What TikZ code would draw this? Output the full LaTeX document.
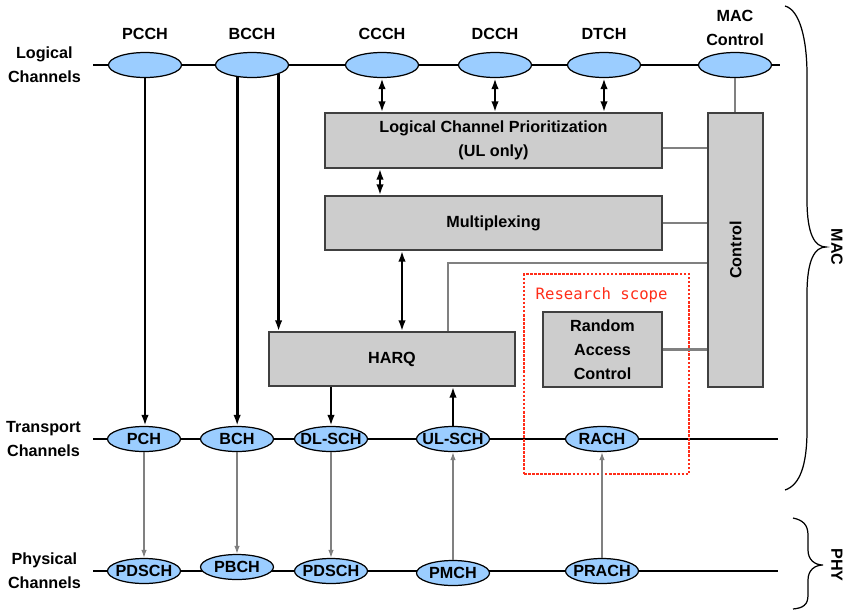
\documentclass[tikz,border=0pt]{standalone}
\usepackage{fontspec}
\setmainfont{Liberation Sans}
\newfontfamily\scopefont{DejaVu Sans Mono}
\usepackage{tikz}
\usetikzlibrary{arrows.meta, positioning, shapes.geometric, calc}
\definecolor{chanblue}{RGB}{155,205,255}
\definecolor{boxgray}{RGB}{205,205,205}
\definecolor{scopered}{RGB}{255,45,25}
\newcommand{\chtext}[1]{\makebox[0pt]{#1}}

\begin{document}
\begin{tikzpicture}[
    x=0.2mm, y=-0.2mm,
    every node/.style={font=\fontsize{9.2}{13.6}\selectfont\bfseries},
    % Channel styles
    chan/.style={
      ellipse, draw, line width=0.7pt, fill=chanblue,
      minimum width=14.6mm, minimum height=5mm, inner sep=0pt
    },
    sidelabel/.style={align=center},
    % Box styles
    macbox/.style={
      rectangle, draw=black!75, line width=0.8pt, fill=boxgray,
      align=center
    },
    scopebox/.style={
      rectangle, draw=scopered, line width=1.1pt,
      dash pattern=on 1.5pt off 0.8pt,
      minimum width=33mm, minimum height=40mm
    },
    scopelabel/.style={
      font=\fontsize{8.9}{11}\selectfont\scopefont, text=scopered
    },
    % Arrow styles
    arr/.style={-{Latex[length=2.2mm, width=1.5mm]}, line width=1.6pt},
    duplex/.style={{Latex[length=2.2mm, width=1.5mm]}-{Latex[length=2.2mm, width=1.5mm]}, line width=1.6pt},
    phyarr/.style={-{Latex[length=1.6mm, width=1.1mm]}, line width=0.7pt, color=gray},
    ctrlline/.style={line width=1.3pt, color=gray},
    chanline/.style={line width=0.7pt}
  ]
  \useasboundingbox (0,0) rectangle (847,611);

  % ============ Channel lines ============
  \coordinate (logL) at (93,65);
  \coordinate (trL) at (93,439);
  \coordinate (phyL) at (93,571);
  \draw[chanline] (logL) -- (780,65);
  \draw[chanline] (trL) -- (778,439);
  \draw[chanline] (phyL) -- (778,571);

  \node[sidelabel, left=1.2mm of logL] {Logical\\Channels};
  \node[sidelabel, left=1.2mm of trL] {Transport\\Channels};
  \node[sidelabel, left=1.2mm of phyL] {Physical\\Channels};

  % ============ Logical Channels ============
  \node[chan] (pcch) at (145,65) {};
  \node[chan] (bcch) at (252,65) {};
  \node[chan] (ccch) at (382,65) {};
  \node[chan] (dcch) at (495,65) {};
  \node[chan] (dtch) at (604,65) {};
  \node[chan] (macctl) at (735,65) {};
  \node[above=1.2mm of pcch] {PCCH};
  \node[above=1.2mm of bcch] {BCCH};
  \node[above=1.2mm of ccch] {CCCH};
  \node[above=1.2mm of dcch] {DCCH};
  \node[above=1.2mm of dtch] {DTCH};
  \node[above=0mm of macctl, align=center] {MAC\\Control};

  % ============ Transport Channels ============
  \node[chan] (pch) at (144,439) {\chtext{PCH}};
  \node[chan] (bch) at (237,439) {\chtext{BCH}};
  \node[chan] (dlsch) at (331,439) {\chtext{DL-SCH}};
  \node[chan] (ulsch) at (453,439) {\chtext{UL-SCH}};
  \node[chan] (rach) at (602,439) {\chtext{RACH}};

  % ============ Physical Channels ============
  \node[chan] (pdscha) at (144,571) {\chtext{PDSCH}};
  \node[chan] (pbch) at (237,567) {\chtext{PBCH}};
  \node[chan] (pdschb) at (331,571) {\chtext{PDSCH}};
  \node[chan] (pmch) at (453,573) {\chtext{PMCH}};
  \node[chan] (prach) at (602,571) {\chtext{PRACH}};

  % ============ MAC entities ============
  \node[macbox, minimum width=67.4mm, minimum height=11mm] (lcp) at (493.5,140.5)
    {Logical Channel Prioritization\\(UL only)};
  \node[macbox, minimum width=67.4mm, minimum height=10.8mm] (mux) at (493.5,223)
    {Multiplexing};
  \node[macbox, minimum width=49.2mm, minimum height=10.8mm] (harq) at (392,359)
    {HARQ};
  \node[macbox, minimum width=23.8mm, minimum height=15mm] (rac) at (602.5,349.5)
    {Random\\Access\\Control};
  \node[macbox, minimum width=11mm, minimum height=54.8mm] (ctrl) at (735.5,250) {};
  \node[rotate=90] at (ctrl.center) {Control};

  % Research scope frame
  \node[scopebox] (scope) at (606.5,374) {};
  \node[scopelabel, below right=1.7mm and 1.3mm of scope.north west] {Research scope};

  % ============ Arrows ============
  % Logical to transport / MAC
  \draw[arr] (pcch.south) -- (pcch.south |- pch.north);
  \draw[arr] (bcch.-141) -- (bcch.-141 |- bch.north);
  \draw[arr] (bcch.-19) -- (bcch.-19 |- harq.north);
  \draw[duplex] (ccch.south) -- (ccch.south |- lcp.north);
  \draw[duplex] (dcch.south) -- (dcch.south |- lcp.north);
  \draw[duplex] (dtch.south) -- (dtch.south |- lcp.north);

  % Between MAC entities
  \draw[duplex] (lcp.south -| 380,0) -- (mux.north -| 380,0);
  \draw[duplex] (mux.south -| 402,0) -- (harq.north -| 402,0);
  \draw[arr] (harq.south -| dlsch) -- (dlsch.north);
  \draw[arr] (ulsch.north) -- (harq.south -| ulsch);

  % Transport to physical
  \draw[phyarr] (pch.south) -- (pdscha.north);
  \draw[phyarr] (bch.south) -- (pbch.north);
  \draw[phyarr] (dlsch.south) -- (pdschb.north);
  \draw[phyarr] (pmch.north) -- (ulsch.south);
  \draw[phyarr] (prach.north) -- (rach.south);

  % Control links
  \draw[ctrlline] (macctl.south) -- (macctl.south |- ctrl.north);
  \draw[ctrlline] (lcp.east |- 0,148) -- (ctrl.west |- 0,148);
  \draw[ctrlline] (mux.east) -- (mux.east -| ctrl.west);
  \draw[ctrlline] (harq.north -| 448,0) |- (ctrl.west |- 0,263);
  \draw[ctrlline] (rac.east) -- (rac.east -| ctrl.west);

  % ============ Layer braces ============
  \draw[line width=0.7pt] (785,6) .. controls (800,10) and (807,40) .. (807,75)
    -- (807,200) .. controls (807,235) and (815,247) .. (826,247)
    .. controls (815,247) and (807,259) .. (807,294)
    -- (807,430) .. controls (807,465) and (800,485) .. (785,490);
  \node[rotate=-90] (mac) at (837,247) {MAC};

  \draw[line width=0.7pt] (793,518) .. controls (803,520) and (808,525) .. (808,535)
    -- (808,550) .. controls (808,560) and (815,565) .. (823,565)
    .. controls (815,565) and (808,570) .. (808,580)
    -- (808,595) .. controls (808,605) and (803,608) .. (793,609);
  \node[rotate=-90] (phy) at (837,565) {PHY};

\end{tikzpicture}
\end{document}
